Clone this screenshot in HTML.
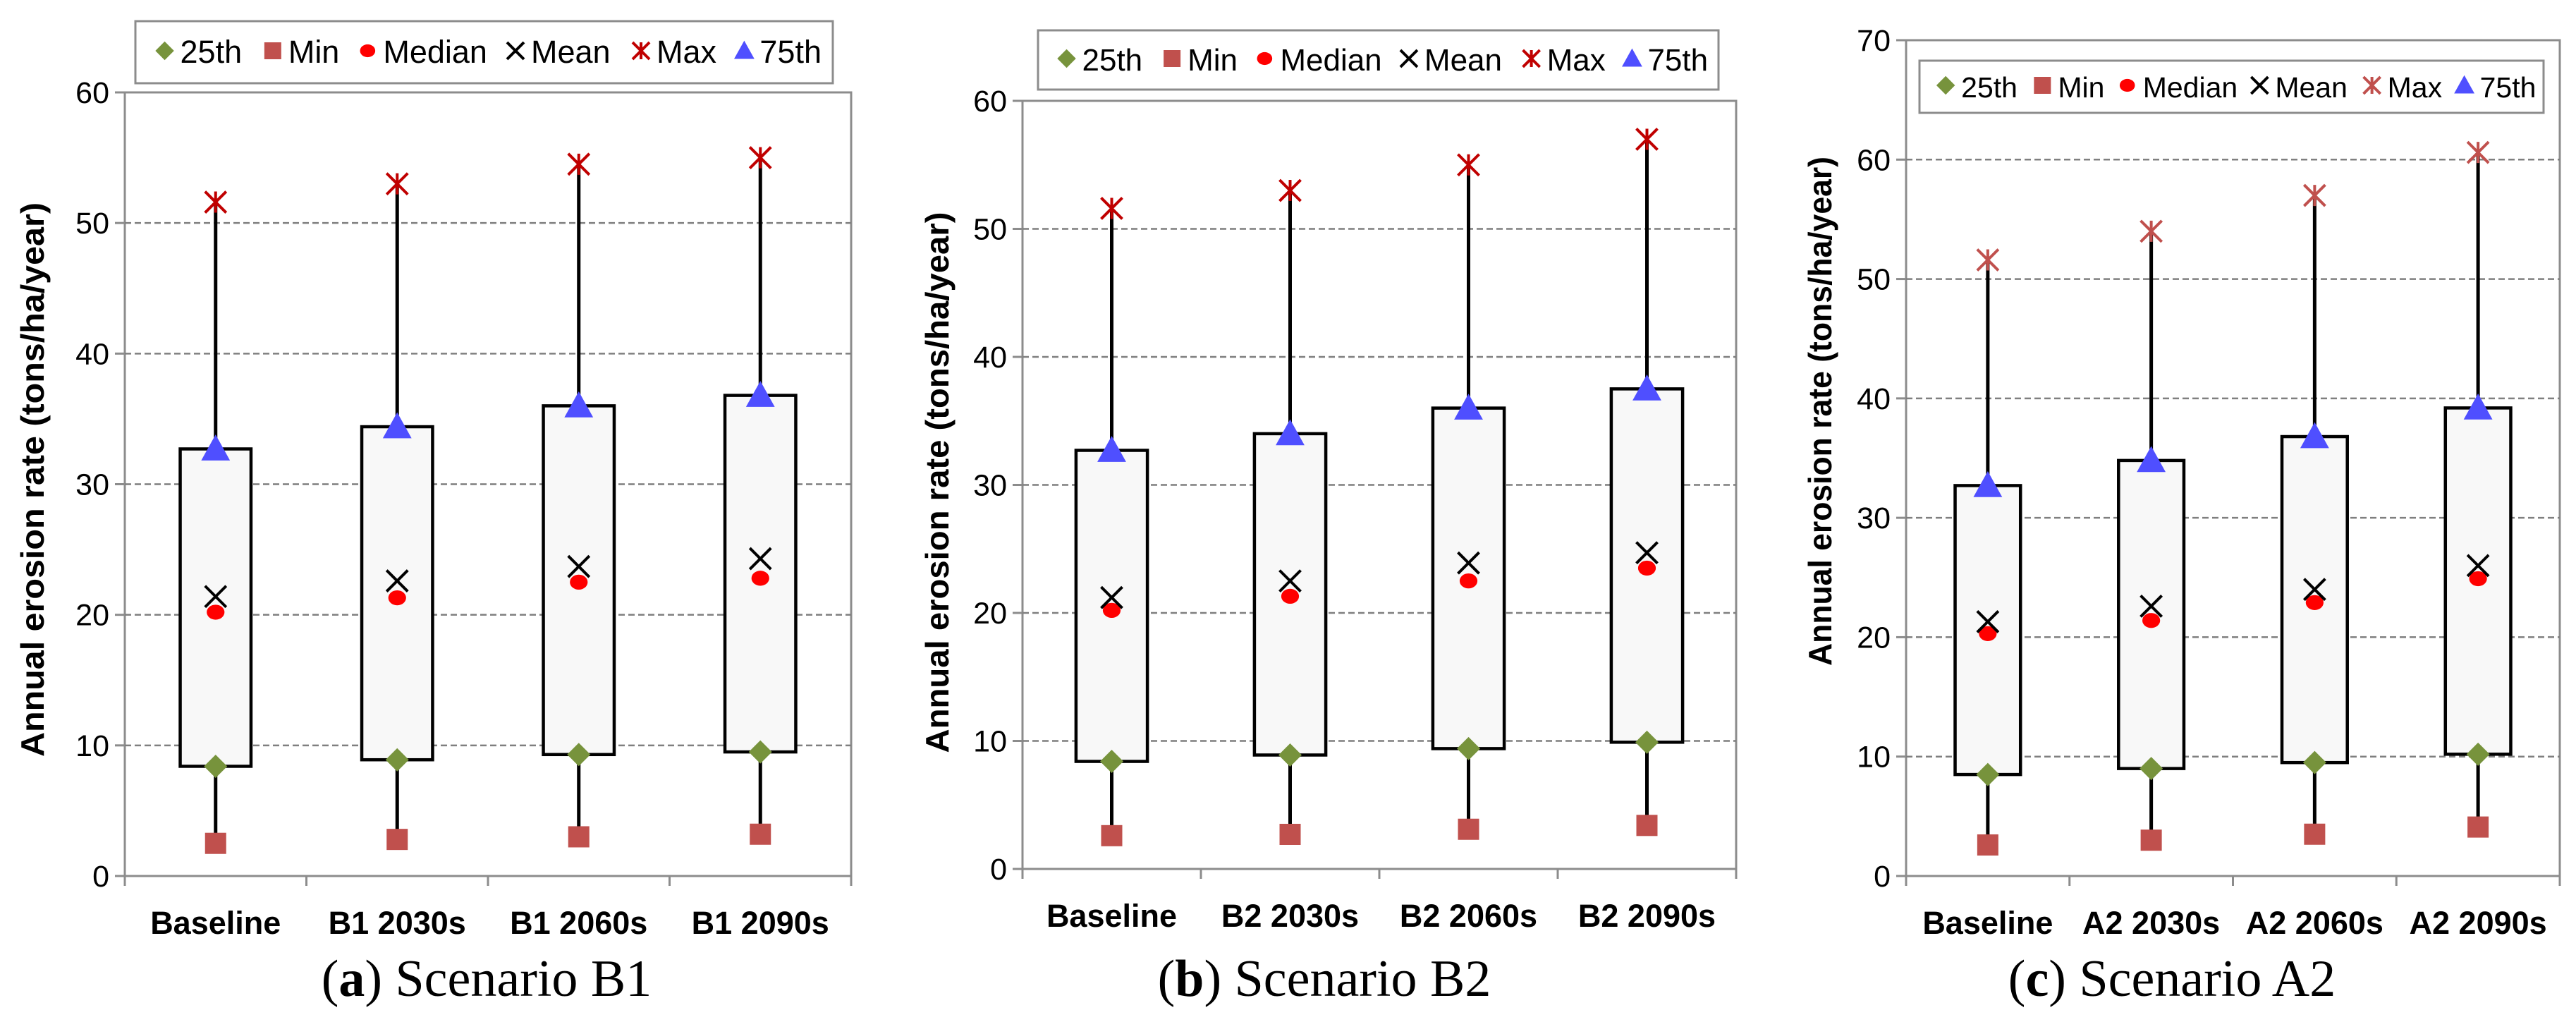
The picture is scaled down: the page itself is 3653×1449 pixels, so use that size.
<!DOCTYPE html>
<html><head><meta charset="utf-8"><style>
html,body{margin:0;padding:0;background:#fff;}
svg{display:block;}
</style></head><body>
<svg id="fig" width="3653" height="1449" viewBox="0 0 3653 1449" xmlns="http://www.w3.org/2000/svg" font-family="'Liberation Sans', Arial, sans-serif"></svg>
<script>
// ---- data ----
const catsA = ["Baseline","B1 2030s","B1 2060s","B1 2090s"];
const minA = [2.5,2.8,3.0,3.2];
const q1A = [8.4,8.9,9.3,9.5];
const medA = [20.2,21.3,22.5,22.8];
const meanA = [21.4,22.6,23.7,24.3];
const q3A = [32.7,34.4,36.0,36.8];
const maxA = [51.6,53.0,54.5,55.0];
const ticksA = [0,10,20,30,40,50,60];

const catsB = ["Baseline","B2 2030s","B2 2060s","B2 2090s"];
const minB = [2.6,2.7,3.1,3.4];
const q1B = [8.4,8.9,9.4,9.9];
const medB = [20.2,21.3,22.5,23.5];
const meanB = [21.2,22.5,23.9,24.7];
const q3B = [32.7,34.0,36.0,37.5];
const maxB = [51.6,53.0,55.0,57.0];
const ticksB = [0,10,20,30,40,50,60];

const catsC = ["Baseline","A2 2030s","A2 2060s","A2 2090s"];
const minC = [2.6,3.0,3.5,4.1];
const q1C = [8.5,9.0,9.5,10.2];
const medC = [20.3,21.4,22.9,24.9];
const meanC = [21.3,22.6,24.0,26.0];
const q3C = [32.7,34.8,36.8,39.2];
const maxC = [51.6,54.0,57.0,60.6];
const ticksC = [0,10,20,30,40,50,60,70];

const NS = "http://www.w3.org/2000/svg";
const svg = document.getElementById('fig');
function mk(tag, attrs, parent){
  const e = document.createElementNS(NS, tag);
  for (const k in attrs) e.setAttribute(k, attrs[k]);
  (parent||svg).appendChild(e);
  return e;
}

function marker(g, type, cx, cy, color, sz){
  let e;
  if (type==='diamond'){
    const r=sz*0.55;
    e = mk('polygon',{points:`${cx},${cy-r} ${cx+r},${cy} ${cx},${cy+r} ${cx-r},${cy}`,fill:'#77933C'},g);
  } else if (type==='square'){
    const r=sz*0.5;
    e = mk('rect',{x:cx-r,y:cy-r,width:2*r,height:2*r,fill:'#C0504D'},g);
  } else if (type==='circle'){
    e = mk('ellipse',{cx:cx,cy:cy,rx:sz*0.45,ry:sz*0.38,fill:'#FF0000'},g);
  } else if (type==='x'){
    const r=sz*0.5;
    e = mk('path',{d:`M${cx-r},${cy-r}L${cx+r},${cy+r}M${cx+r},${cy-r}L${cx-r},${cy+r}`,stroke:'#000',"stroke-width":4,fill:'none'},g);
  } else if (type==='star'){
    const r=sz*0.5;
    e = mk('path',{d:`M${cx-r},${cy-r}L${cx+r},${cy+r}M${cx+r},${cy-r}L${cx-r},${cy+r}M${cx},${cy-r}L${cx},${cy+r}`,stroke:color,"stroke-width":4,fill:'none'},g);
  } else if (type==='tri'){
    const r=sz*0.6;
    e = mk('polygon',{points:`${cx},${cy-r} ${cx+r},${cy+r*0.8} ${cx-r},${cy+r*0.8}`,fill:'#4F4FFF'},g);
  }
  return e;
}

function chart(cfg){
  const g = mk('g',{});
  
  
  const {L,R,Y0,Ytop,ymax} = cfg;
  const y = v => Y0 - (v/ymax)*(Y0-Ytop);
  const n = cfg.cats.length;
  const cw = (R-L)/n;
  const x = i => L + cw*(i+0.5);
  const frame = mk('rect',{x:L,y:Ytop,width:R-L,height:Y0-Ytop,fill:'#fff',stroke:'#8C8C8C',"stroke-width":3},g);
  
  
  cfg.ticks.forEach(t=>{
    const yy=y(t);
    if (t>0 && t<ymax){
      const gl = mk('line',{x1:L,x2:R,y1:yy,y2:yy,stroke:'#7F7F7F',"stroke-width":2.5,"stroke-dasharray":"9,5"},g);
      
      
    }
    mk('line',{x1:L-14,x2:L,y1:yy,y2:yy,stroke:'#8C8C8C',"stroke-width":3},g);
    const tl = mk('text',{x:L-22,y:yy+15,"text-anchor":"end","font-size":43,fill:'#000'},g);
    tl.textContent = t;
    
    
  });
  mk('line',{x1:L,x2:R,y1:Y0,y2:Y0,stroke:'#8C8C8C',"stroke-width":3},g);
  for (let i=0;i<=n;i++){
    const xx=L+cw*i;
    mk('line',{x1:xx,x2:xx,y1:Y0,y2:Y0+14,stroke:'#8C8C8C',"stroke-width":3},g);
  }
  cfg.cats.forEach((c,i)=>{
    const tl = mk('text',{x:x(i),y:Y0+82,"text-anchor":"middle","font-size":45,"font-weight":"bold",fill:'#000'},g);
    tl.textContent=c;
    
    
  });
  const bw = cw*cfg.boxFrac;
  cfg.cats.forEach((c,i)=>{
    const cx=x(i);
    const w1 = mk('line',{x1:cx,x2:cx,y1:y(cfg.min[i]),y2:y(cfg.max[i]),stroke:'#000',"stroke-width":5},g);
    
    
    const b = mk('rect',{x:cx-bw/2,y:y(cfg.q3[i]),width:bw,height:y(cfg.q1[i])-y(cfg.q3[i]),fill:'#F8F8F8',stroke:'#000',"stroke-width":4.5},g);
    
    
    let m;
    m = marker(g,'square',cx,y(cfg.min[i]),'',30);
    
    
    m = marker(g,'diamond',cx,y(cfg.q1[i]),'',30);
    
    
    m = marker(g,'circle',cx,y(cfg.med[i]),'',28);
    
    
    m = marker(g,'x',cx,y(cfg.mean[i]),'',30);
    
    
    m = marker(g,'star',cx,y(cfg.max[i]),cfg.maxColor,30);
    
    
    m = marker(g,'tri',cx,y(cfg.q3[i]),'',34);
    
    
  });
  const at = mk('text',{x:0,y:0,transform:`translate(${cfg.titleX},${cfg.titleY}) rotate(-90)`,"text-anchor":"middle","font-size":46,"font-weight":"bold",textLength:cfg.titleLen,lengthAdjust:"spacingAndGlyphs",fill:'#000'},g);
  at.textContent='Annual erosion rate (tons/ha/year)';
  
  
  const lg = mk('g',{},g);
  
  
  const [lx1,ly1,lx2,ly2]=cfg.leg;
  mk('rect',{x:lx1,y:ly1,width:lx2-lx1,height:ly2-ly1,fill:'#fff',stroke:'#8C8C8C',"stroke-width":3},lg);
  const items=[['diamond','25th',0.042],['square','Min',0.197],['circle','Median',0.333],['x','Mean',0.545],['star','Max',0.725],['tri','75th',0.873]];
  const lw=lx2-lx1, ly=(ly1+ly2)/2;
  items.forEach(it=>{
    const ix=lx1+lw*it[2];
    const ent = mk('g',{},lg);
    
    
    marker(ent,it[0],ix,ly-2,cfg.maxColor,24);
    const t = mk('text',{x:ix+22,y:ly+15,"font-size":cfg.legFont,fill:'#000'},ent);
    t.textContent=it[1];
  });
  const cap = mk('text',{x:cfg.capX,y:1412,"text-anchor":"middle","font-size":74,"font-family":"'Liberation Serif', serif",fill:'#000'},g);
  cap.innerHTML=`(<tspan font-weight="bold">${cfg.capL}</tspan>) ${cfg.capT}`;
  
  
}

chart({name:'chart-scenario-b1',cats:catsA,min:minA,q1:q1A,med:medA,mean:meanA,q3:q3A,max:maxA,ticks:ticksA,
  L:177,R:1207,Y0:1242,Ytop:131,ymax:60,boxFrac:0.39,maxColor:'#C00000',
  titleX:62,titleY:680,titleLen:786,leg:[192,30,1181,118],legFont:45,capX:690,capL:'a',capT:'Scenario B1'});
chart({name:'chart-scenario-b2',cats:catsB,min:minB,q1:q1B,med:medB,mean:meanB,q3:q3B,max:maxB,ticks:ticksB,
  L:1450,R:2462,Y0:1232,Ytop:143,ymax:60,boxFrac:0.40,maxColor:'#C00000',
  titleX:1345,titleY:684,titleLen:767,leg:[1472,43,2437,127],legFont:44,capX:1878,capL:'b',capT:'Scenario B2'});
chart({name:'chart-scenario-a2',cats:catsC,min:minC,q1:q1C,med:medC,mean:meanC,q3:q3C,max:maxC,ticks:ticksC,
  L:2703,R:3630,Y0:1242,Ytop:57,ymax:70,boxFrac:0.40,maxColor:'#C0504D',
  titleX:2597,titleY:583,titleLen:722,leg:[2722,86,3607,160],legFont:41,capX:3080,capL:'c',capT:'Scenario A2'});
</script>
</body></html>
